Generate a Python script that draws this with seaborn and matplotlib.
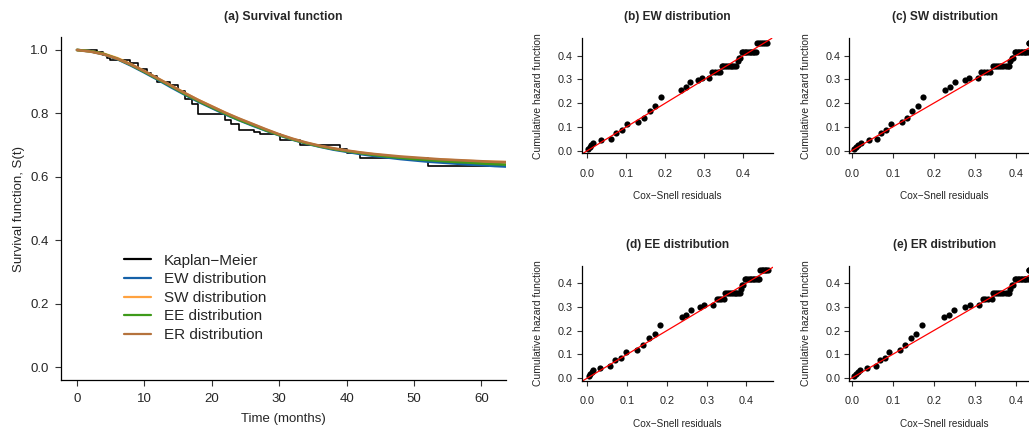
import matplotlib
matplotlib.use("Agg")
import matplotlib.pyplot as plt
import seaborn as sns
import pandas as pd

# ---------------- data ----------------
km_time = [0, 3.0, 3.8, 4.4, 4.9, 7.9, 9.1, 10.4, 11.0, 11.8, 13.8, 15.0, 16.0, 17.0, 18.0,
           22.0, 22.9, 24.1, 26.2, 27.2, 30.1, 33.1, 39.0, 40.0, 42.0, 52.1, 61.2]
km_surv = [1.0, 0.993, 0.983, 0.976, 0.967, 0.958, 0.939, 0.927, 0.918, 0.899, 0.888, 0.871, 0.846,
           0.830, 0.799, 0.780, 0.766, 0.749, 0.742, 0.735, 0.717, 0.700, 0.688, 0.676, 0.660,
           0.635, 0.635]

t_grid = [0, 2, 4, 6, 8, 10, 12, 14, 16, 18, 20, 22, 24, 26, 28, 30, 32, 34, 36, 38, 40,
          42, 44, 46, 48, 50, 52, 54, 56, 58, 60, 62, 64]
surv_ew = [1.000, 0.996, 0.986, 0.971, 0.951, 0.929, 0.906, 0.882, 0.859, 0.837, 0.817, 0.797,
           0.779, 0.762, 0.746, 0.731, 0.717, 0.705, 0.695, 0.686, 0.679, 0.672, 0.666, 0.661,
           0.656, 0.652, 0.648, 0.645, 0.642, 0.639, 0.637, 0.634, 0.632]
surv_sw = [1.000, 0.996, 0.988, 0.974, 0.955, 0.933, 0.910, 0.887, 0.864, 0.842, 0.822, 0.802,
           0.783, 0.766, 0.749, 0.733, 0.719, 0.707, 0.697, 0.689, 0.682, 0.676, 0.671, 0.666,
           0.662, 0.659, 0.656, 0.654, 0.652, 0.650, 0.648, 0.647, 0.646]
surv_ee = [1.000, 0.996, 0.987, 0.972, 0.953, 0.931, 0.908, 0.885, 0.861, 0.839, 0.819, 0.799,
           0.780, 0.764, 0.747, 0.732, 0.718, 0.706, 0.696, 0.688, 0.681, 0.675, 0.669, 0.664,
           0.660, 0.656, 0.653, 0.650, 0.647, 0.645, 0.642, 0.640, 0.638]
surv_er = [1.000, 0.995, 0.986, 0.972, 0.954, 0.933, 0.910, 0.887, 0.864, 0.842, 0.822, 0.802,
           0.784, 0.767, 0.750, 0.734, 0.720, 0.708, 0.698, 0.690, 0.683, 0.677, 0.672, 0.668,
           0.664, 0.661, 0.658, 0.655, 0.653, 0.651, 0.649, 0.647, 0.646]

cum_hazard = [0.007, 0.017, 0.024, 0.034,
              0.043, 0.049, 0.076, 0.086, 0.111, 0.119, 0.138, 0.167, 0.186, 0.225, 0.255,
              0.267, 0.287, 0.298, 0.308, 0.308,
              0.333, 0.333, 0.333, 0.333,
              0.356, 0.356, 0.356, 0.356, 0.356, 0.356, 0.356, 0.356, 0.356,
              0.377,
              0.392, 0.392,
              0.415, 0.415, 0.415, 0.415, 0.415, 0.415, 0.415, 0.415, 0.415, 0.415,
              0.455, 0.455, 0.455, 0.455, 0.455, 0.455]

resid_ew = [0.003, 0.007, 0.010, 0.014,
            0.034, 0.060, 0.073, 0.088, 0.101, 0.131, 0.145, 0.161, 0.174, 0.188, 0.239,
            0.252, 0.263, 0.285, 0.293, 0.313,
            0.320, 0.327, 0.334, 0.340,
            0.344, 0.349, 0.354, 0.359, 0.363, 0.368, 0.372, 0.377, 0.381,
            0.385,
            0.388, 0.392,
            0.396, 0.400, 0.404, 0.408, 0.412, 0.416, 0.420, 0.424, 0.428, 0.432,
            0.435, 0.440, 0.445, 0.450, 0.455, 0.460]
resid_sw = [0.006, 0.011, 0.015, 0.022,
            0.041, 0.061, 0.071, 0.084, 0.096, 0.122, 0.134, 0.148, 0.161, 0.174, 0.227,
            0.239, 0.252, 0.276, 0.286, 0.308,
            0.316, 0.323, 0.330, 0.337,
            0.345, 0.350, 0.355, 0.360, 0.365, 0.370, 0.375, 0.380, 0.384,
            0.387,
            0.390, 0.394,
            0.398, 0.401, 0.405, 0.408, 0.412, 0.415, 0.419, 0.422, 0.426, 0.429,
            0.431, 0.433, 0.435, 0.437, 0.439, 0.441]
resid_ee = [0.003, 0.007, 0.011, 0.015,
            0.033, 0.057, 0.069, 0.084, 0.097, 0.126, 0.139, 0.155, 0.169, 0.183, 0.237,
            0.249, 0.261, 0.283, 0.294, 0.315,
            0.325, 0.331, 0.337, 0.343,
            0.346, 0.351, 0.356, 0.361, 0.365, 0.370, 0.374, 0.379, 0.383,
            0.385,
            0.388, 0.392,
            0.396, 0.400, 0.404, 0.408, 0.412, 0.416, 0.420, 0.424, 0.428, 0.432,
            0.434, 0.438, 0.442, 0.446, 0.450, 0.453]
resid_er = [0.006, 0.011, 0.015, 0.020,
            0.038, 0.058, 0.069, 0.081, 0.092, 0.118, 0.130, 0.144, 0.157, 0.171, 0.225,
            0.238, 0.250, 0.276, 0.288, 0.311,
            0.319, 0.326, 0.333, 0.341,
            0.345, 0.350, 0.355, 0.360, 0.365, 0.370, 0.375, 0.380, 0.384,
            0.387,
            0.390, 0.394,
            0.398, 0.401, 0.405, 0.408, 0.412, 0.415, 0.419, 0.422, 0.426, 0.429,
            0.431, 0.433, 0.435, 0.437, 0.439, 0.441]

surv_ticks_x = [0, 10, 20, 30, 40, 50, 60]
surv_ticks_y = [0.0, 0.2, 0.4, 0.6, 0.8, 1.0]
res_ticks = [0.0, 0.1, 0.2, 0.3, 0.4]

# ---------------- style ----------------
sns.set_style("ticks")
plt.rcParams["font.family"] = ["Liberation Sans", "DejaVu Sans"]
plt.rcParams["axes.linewidth"] = 0.9
plt.rcParams["axes.edgecolor"] = "black"

W, H = 1029, 430
fig = plt.figure(figsize=(W / 100, H / 100), dpi=100)


def px_axes(left, top, right, bottom):
    return fig.add_axes([left / W, 1 - bottom / H, (right - left) / W, (bottom - top) / H])


# ---------------- (a) survival ----------------
ax = px_axes(60.5, 37.3, 506, 379.7)
sns.lineplot(x=km_time, y=km_surv, ax=ax, drawstyle="steps-post", color="black", lw=1.2,
             estimator=None, sort=False, label="Kaplan\u2212Meier")
fits = [("EW distribution", surv_ew, "#1561a8"),
        ("SW distribution", surv_sw, "#ffa23f"),
        ("EE distribution", surv_ee, "#3e9a1a"),
        ("ER distribution", surv_er, "#b5733d")]
for name, vals, col in fits:
    sns.lineplot(x=t_grid, y=vals, ax=ax, color=col, lw=1.9, estimator=None, sort=False,
                 label=name)
ax.set_xlim(-2.45, 63.65)
ax.set_ylim(-0.04, 1.04)
ax.set_xticks(surv_ticks_x)
ax.set_yticks(surv_ticks_y)
ax.set_yticklabels([f"{v:.1f}" for v in surv_ticks_y])
ax.tick_params(axis="both", length=4.3, width=0.8, color="#333333", labelsize=9.5)
ax.tick_params(axis="x", pad=5)
ax.tick_params(axis="y", pad=4.3)
ax.set_xlabel("Time (months)", fontsize=9.5, labelpad=6)
ax.set_ylabel("Survival function, S(t)", fontsize=9.5)
ax.yaxis.set_label_coords(-0.079, 0.5)
ax.set_title("(a) Survival function", fontsize=8.8, fontweight="bold", pad=12.8)
sns.despine(ax=ax)
leg = ax.legend(loc="upper left", bbox_to_anchor=(0.143, 0.368), frameon=False,
                fontsize=11, handlelength=1.75, handletextpad=0.85, labelspacing=0.3,
                borderaxespad=0, borderpad=0)
for ln in leg.get_lines():
    ln.set_linewidth(1.6)

# ---------------- residual panels ----------------
panels = [("(b) EW distribution", resid_ew, (581.7, 38.3, 773, 153.3), (-0.0144, 0.476)),
          ("(c) SW distribution", resid_sw, (849, 38.3, 1040, 153.3), (-0.0066, 0.459)),
          ("(d) EE distribution", resid_ee, (581.7, 265.7, 773, 380.7), (-0.0141, 0.4666)),
          ("(e) ER distribution", resid_er, (849, 265.7, 1040, 380.7), (-0.0066, 0.459))]
for title, resid, pos, xl in panels:
    a = px_axes(*pos)
    df = pd.DataFrame({"resid": resid, "cumhaz": cum_hazard})
    sns.scatterplot(data=df, x="resid", y="cumhaz", ax=a, color="black", s=20, linewidth=0)
    a.axline((0, 0), slope=1, color="red", lw=0.9)
    a.set_xlim(*xl)
    a.set_ylim(-0.011, 0.473)
    a.set_xticks(res_ticks)
    a.set_yticks(res_ticks)
    a.set_xticklabels([f"{v:.1f}" for v in res_ticks])
    a.set_yticklabels([f"{v:.1f}" for v in res_ticks])
    a.tick_params(axis="both", length=3.6, width=0.8, color="#333333", labelsize=7.8)
    a.tick_params(axis="x", pad=7.5)
    a.tick_params(axis="y", pad=2.7)
    a.set_xlabel("Cox\u2212Snell residuals", fontsize=7.2)
    a.set_ylabel("Cumulative hazard function", fontsize=7.5)
    a.xaxis.set_label_coords(0.5, -0.33)
    a.yaxis.set_label_coords(-0.2, 0.5)
    a.set_title(title, fontsize=8.6, fontweight="bold", pad=13)
    sns.despine(ax=a)

fig.savefig("out.png", dpi=100)
